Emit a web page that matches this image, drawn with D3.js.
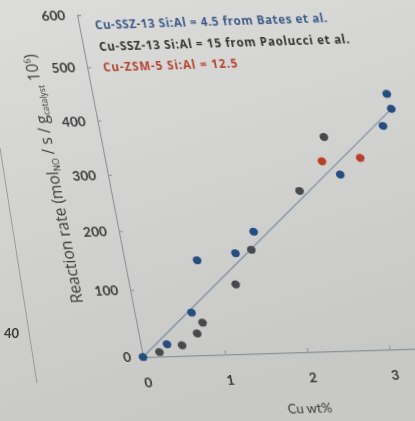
<!DOCTYPE html>
<html>
<head>
<meta charset="utf-8">
<script src="https://cdn.jsdelivr.net/npm/d3@7"></script>
<style>
  html, body { margin: 0; padding: 0; }
  body { width: 415px; height: 421px; overflow: hidden; }
  text { font-family: Lato, "Open Sans", sans-serif; }
</style>
</head>
<body>
<svg id="chart" width="415" height="421"></svg>
<script>
// Cu loading (wt%) and reaction rate
const cuBates = [0, 0.32, 0.69, 0.88, 1.36, 1.63, 2.81, 3.44, 3.56, 3.58];
const rateBates = [0, 15, 61, 146, 156, 192, 288, 374, 433, 405];
const cuPaolucci = [0.21, 0.50, 0.71, 0.80, 1.29, 1.56, 2.28, 2.70];
const ratePaolucci = [5, 13, 29, 45, 104, 161, 261, 357];
const cuZsm = [2.62, 3.09];
const rateZsm = [313, 317];
const fitCu = [0, 3.55];
const fitRate = [0, 401];
const xTicks = [0, 1, 2, 3];
const yTicks = [0, 100, 200, 300, 400, 500, 600];
const legendLabels = [
  "Cu-SSZ-13 Si:Al = 4.5 from Bates et al.",
  "Cu-SSZ-13 Si:Al = 15 from Paolucci et al.",
  "Cu-ZSM-5 Si:Al = 12.5"
];

const svg = d3.select("#chart");

// photo background
const defs = svg.append("defs");
const grad = defs.append("linearGradient").attr("id", "bg")
  .attr("x1", 0).attr("y1", 0).attr("x2", 0.3).attr("y2", 1);
grad.append("stop").attr("offset", 0).attr("stop-color", "#dcdcdb");
grad.append("stop").attr("offset", 1).attr("stop-color", "#c8c8c7");
defs.append("filter").attr("id", "soft")
  .append("feGaussianBlur").attr("stdDeviation", 0.45);

svg.append("rect").attr("width", 415).attr("height", 421).attr("fill", "url(#bg)");

const root = svg.append("g").attr("filter", "url(#soft)");

// bit of the neighbouring chart on the slide
root.append("line")
  .attr("x1", 0).attr("y1", 148).attr("x2", 37).attr("y2", 383)
  .attr("stroke", "#9a9a9a").attr("stroke-width", 1);
root.append("text")
  .attr("x", 19).attr("y", 338).attr("text-anchor", "end")
  .attr("font-size", 13).attr("font-weight", "bold").attr("fill", "#3a3a3a")
  .text("40");

// slide is photographed at an angle: shear the whole plot
const g = root.append("g")
  .attr("transform", "matrix(1,-0.0305,0.193,1,143,357)");

const x = d3.scaleLinear().domain([0, 4]).range([0, 329]);
const y = d3.scalePow().exponent(0.91).domain([0, 600]).range([0, -342]);

// axes
const xAxis = g.append("g")
  .call(d3.axisBottom(x).tickValues(xTicks).tickSize(-4).tickPadding(21).tickFormat(d3.format("d")));
const yAxis = g.append("g")
  .call(d3.axisLeft(y).tickValues(yTicks).tickSize(-4).tickPadding(12));

[xAxis, yAxis].forEach(a => {
  a.select(".domain").attr("stroke", "#8a929c").attr("stroke-width", 1.1);
  a.selectAll(".tick line").attr("stroke", "#8a929c");
  a.selectAll(".tick text")
    .attr("font-size", 13.5).attr("font-weight", "bold").attr("fill", "#3a3a3a")
    .style("font-family", "Lato, sans-serif");
});

// axis titles
g.append("text")
  .attr("x", 156).attr("y", 61)
  .attr("text-anchor", "middle")
  .attr("font-size", 13).attr("fill", "#3a3a3a")
  .text("Cu wt%");

const yl = g.append("text")
  .attr("transform", "translate(-49,-180) rotate(-90)")
  .attr("text-anchor", "middle")
  .style("font-family", "'Open Sans', sans-serif")
  .attr("font-size", 15.5).attr("fill", "#3a3a3a");
yl.append("tspan").text("Reaction rate (mol");
yl.append("tspan").attr("font-size", 8.5).attr("dy", 3).text("NO");
yl.append("tspan").attr("dy", -3).text(" / s / g");
yl.append("tspan").attr("font-size", 8.5).attr("dy", 3).text("catalyst");
yl.append("tspan").attr("dy", -3).text(" 10");
yl.append("tspan").attr("font-size", 8.5).attr("dy", -6).text("6");
yl.append("tspan").attr("dy", 6).text(")");

// linear fit
g.append("line")
  .attr("x1", x(fitCu[0])).attr("y1", y(fitRate[0]))
  .attr("x2", x(fitCu[1])).attr("y2", y(fitRate[1]))
  .attr("stroke", "#7f8da0").attr("stroke-width", 1.2);

// points
const series = [
  { cu: cuPaolucci, rate: ratePaolucci, color: "#474a4b" },
  { cu: cuBates, rate: rateBates, color: "#284d80" },
  { cu: cuZsm, rate: rateZsm, color: "#b8402c" }
];
series.forEach(s => {
  g.append("g").selectAll("ellipse")
    .data(s.cu)
    .enter()
    .append("ellipse")
    .attr("cx", (d, i) => x(d))
    .attr("cy", (d, i) => y(s.rate[i]))
    .attr("rx", 4.3).attr("ry", 4)
    .attr("fill", s.color);
});

// legend
const legendColors = ["#3c5a88", "#333333", "#b5412f"];
const legendWidths = [232, 250, 134];
g.append("g").attr("transform", "translate(16,-327)")
  .selectAll("text")
  .data(legendLabels)
  .enter()
  .append("text")
  .attr("x", 0).attr("y", (d, i) => i * 21)
  .style("font-family", "'Open Sans', sans-serif")
  .attr("font-size", 11.5).attr("font-weight", "bold")
  .attr("textLength", (d, i) => legendWidths[i])
  .attr("lengthAdjust", "spacing")
  .attr("fill", (d, i) => legendColors[i])
  .text(d => d);
</script>
</body>
</html>
